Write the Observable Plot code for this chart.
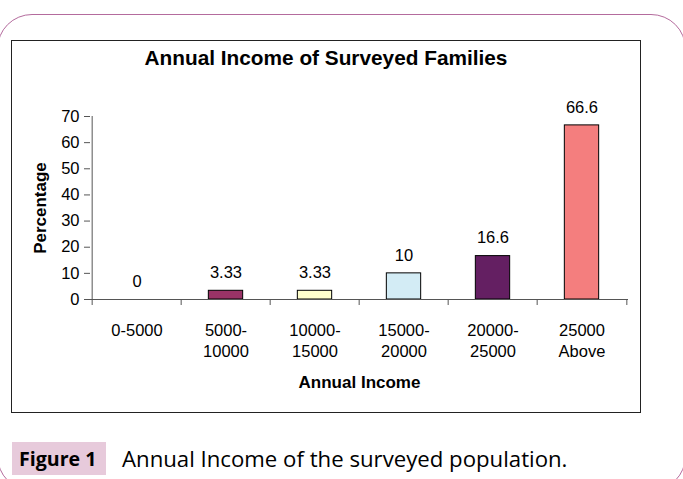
<!DOCTYPE html>
<html><head><meta charset="utf-8">
<script src="https://cdn.jsdelivr.net/npm/d3@7"></script>
<script src="https://cdn.jsdelivr.net/npm/@observablehq/plot@0.6"></script>
<style>
body{margin:0;background:#fff;}
#page{position:relative;width:683px;height:479px;overflow:hidden;background:#fff;font-family:"Liberation Sans",Arial,sans-serif;color:#000;}
#frame{position:absolute;left:-3px;top:14px;width:689px;height:477px;border:1.5px solid #b46b9d;border-radius:35px;box-sizing:border-box;}
#box{position:absolute;left:11px;top:40px;width:630px;height:373px;border:1.5px solid #222;box-sizing:border-box;}
#title{position:absolute;left:12px;width:628px;top:46px;text-align:center;font-weight:bold;font-size:20.8px;line-height:24px;}
#chart{position:absolute;left:12px;top:85px;}
#fig{position:absolute;left:12px;top:442px;width:94px;height:33px;background:#e7cadb;}
.cap{position:absolute;top:444px;font-family:"Open Sans",sans-serif;line-height:30px;white-space:nowrap;}
#chart [aria-label="y-axis label"] text, #chart [aria-label="x-axis label"] text{font-weight:bold;font-size:17px;}
</style>
</head><body>
<div id="page">
  <div id="frame"></div>
  <div id="box"></div>
  <div id="title">Annual Income of Surveyed Families</div>
  <div id="chart"></div>
  <div id="fig"></div>
  <div class="cap" style="left:19px;font-weight:bold;font-size:19.6px;">Figure 1</div>
  <div class="cap" style="left:122px;font-size:22.2px;">Annual Income of the surveyed population.</div>
</div>
<script>
const categories = ["0-5000", "5000-10000", "10000-15000", "15000-20000", "20000-25000", "25000 Above"];
const tickLabels = ["0-5000", "5000-\n10000", "10000-\n15000", "15000-\n20000", "20000-\n25000", "25000\nAbove"];
const percentages = [0, 3.33, 3.33, 10, 16.6, 66.6];
const barColors = ["#9999ff", "#993366", "#ffffcc", "#d3ecf5", "#641f62", "#f47e7e"];
const yTicks = [0, 10, 20, 30, 40, 50, 60, 70];

const data = categories.map((c, i) => ({category: c, value: percentages[i], color: barColors[i]}));

const W = 628, H = 320, mL = 78, mR = 12, mT = 31, mB = 106;
const bw = (W - mL - mR) / categories.length;
const barW = 35;
const ins = (bw - barW) / 2;
const axisColor = "#555";

const chart = Plot.plot({
  width: W, height: H,
  marginLeft: mL, marginRight: mR, marginTop: mT, marginBottom: mB,
  style: {fontFamily: "'Liberation Sans', Arial, sans-serif", fontSize: "16.5px", color: "#000", background: "transparent", overflow: "visible"},
  x: {domain: categories, padding: 0},
  y: {domain: [0, 70]},
  color: {type: "identity"},
  marks: [
    Plot.barY(data, {x: "category", y: "value", fill: "color", stroke: "#000", strokeWidth: 1, insetLeft: ins, insetRight: ins}),
    Plot.text(data, {x: "category", y: "value", text: d => String(d.value), dy: -18, fill: "#000"}),
    Plot.ruleY([0], {stroke: axisColor}),
    Plot.ruleX(categories.slice(1), {x: d => d, y1: 0, y2: 0, dx: -bw / 2, insetTop: 6, stroke: axisColor}),
    Plot.ruleX([categories[categories.length - 1]], {x: d => d, y1: 0, y2: 0, dx: bw / 2, insetTop: 6, stroke: axisColor}),
    Plot.ruleX([categories[0]], {x: d => d, y1: 0, y2: 70, dx: -bw / 2, insetTop: 6, stroke: axisColor}),
    Plot.axisY({ticks: yTicks, tickSize: 6, tickPadding: 5, stroke: axisColor, label: "Percentage", labelArrow: "none", labelAnchor: "center", labelOffset: 57}),
    Plot.axisX({tickSize: 0, tickPadding: 21, tickFormat: d => tickLabels[categories.indexOf(d)], lineHeight: 1.3, label: "Annual Income", labelArrow: "none", labelAnchor: "center", labelOffset: 88})
  ]
});
document.getElementById("chart").appendChild(chart);
</script>
</body></html>
